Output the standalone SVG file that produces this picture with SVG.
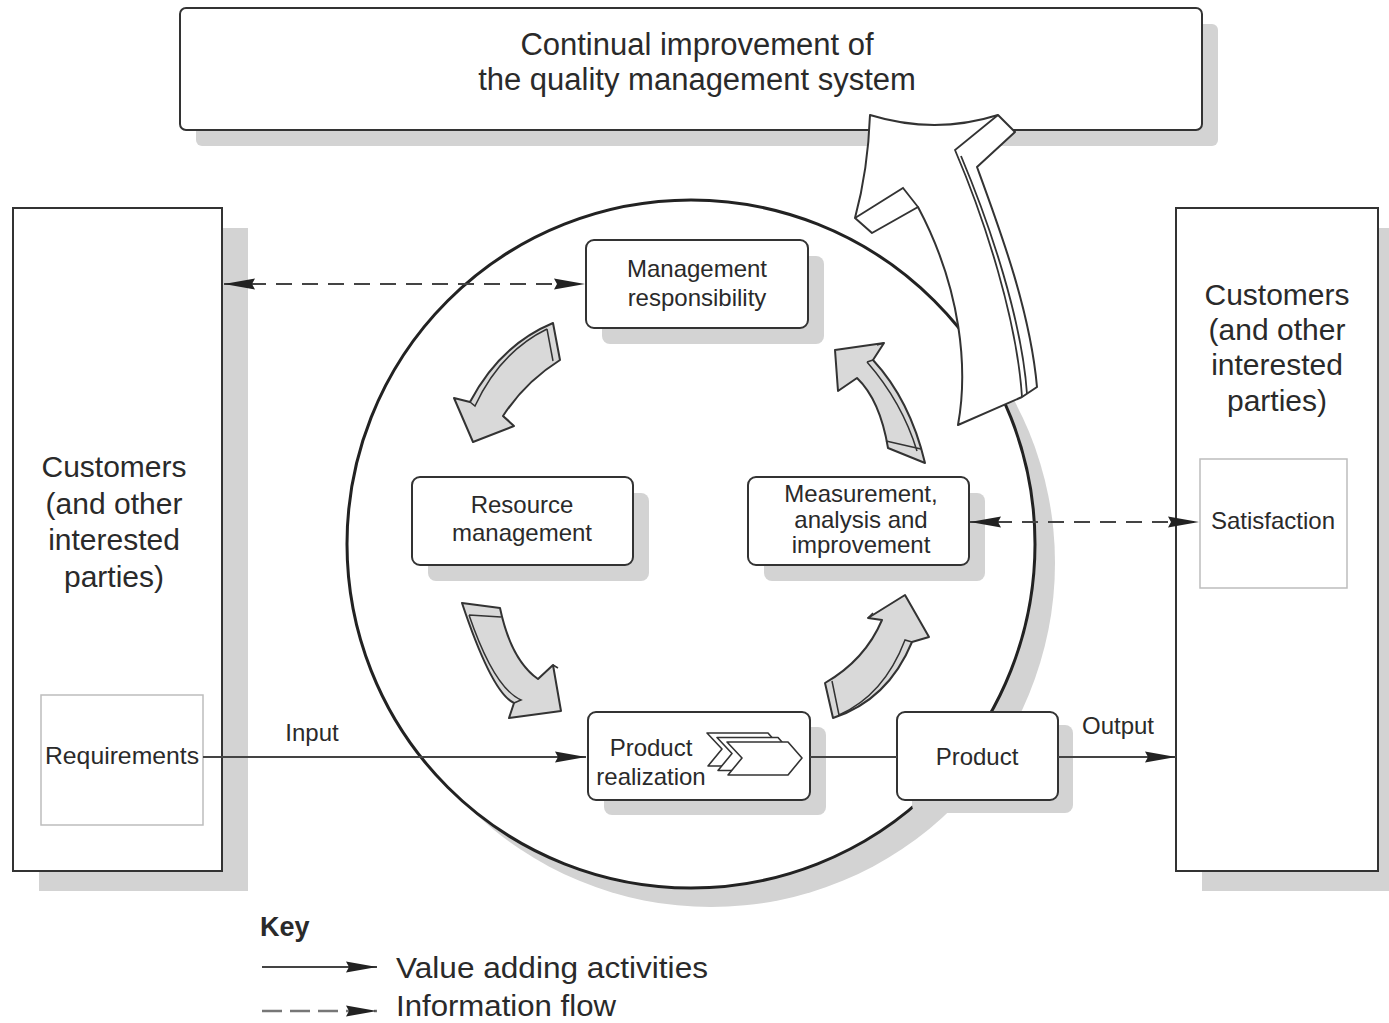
<svg xmlns="http://www.w3.org/2000/svg" width="1389" height="1023" viewBox="0 0 1389 1023">
<style>
  .t { font-family: "Liberation Sans", Arial, sans-serif; fill: #2a2a2a; }
  .big { font-size: 30px; }
  .ttl { font-size: 31px; }
  .mid { font-size: 24px; }
  .box { fill: #fff; stroke: #333; stroke-width: 2; }
  .sub { fill: #fff; stroke: #bdbdbd; stroke-width: 1.5; }
  .shadow { fill: #d3d3d3; }
  .ga { fill: #d9d9d9; stroke: #333; stroke-width: 2; stroke-linejoin: round; }
  .gl { fill: none; stroke: #333; stroke-width: 1.5; }
  .wa { fill: #fff; stroke: #333; stroke-width: 2; stroke-linejoin: round; }
  .wl { fill: none; stroke: #333; stroke-width: 1.8; }
  .solid { fill: none; stroke: #444; stroke-width: 2; }
  .dash { fill: none; stroke: #444; stroke-width: 2.2; stroke-dasharray: 16 10; }
  .chev { fill: #fff; stroke: #333; stroke-width: 1.6; stroke-linejoin: round; }
</style>
<defs>
  <marker id="ah" markerUnits="userSpaceOnUse" markerWidth="34" markerHeight="14" refX="31" refY="7" orient="auto-start-reverse">
    <path d="M0,1.5 L31,7 L0,12.5 L3,7 Z" fill="#222"/>
  </marker>
</defs>
<rect width="1389" height="1023" fill="#fff"/>

<!-- Top box -->
<g id="top-box">
  <rect class="shadow" x="196" y="24" width="1022" height="122" rx="6"/>
  <rect class="box" x="180" y="8" width="1022" height="122" rx="6"/>
  <text class="t ttl" x="697" y="55" text-anchor="middle">Continual improvement of</text>
  <text class="t ttl" x="697" y="90" text-anchor="middle">the quality management system</text>
</g>

<!-- Left customers -->
<g id="left-customers">
  <rect class="shadow" x="39" y="228" width="209" height="663"/>
  <rect class="box" x="13" y="208" width="209" height="663"/>
  <text class="t big" x="114" y="477" text-anchor="middle">Customers</text>
  <text class="t big" x="114" y="514" text-anchor="middle">(and other</text>
  <text class="t big" x="114" y="550" text-anchor="middle">interested</text>
  <text class="t big" x="114" y="587" text-anchor="middle">parties)</text>
</g>
<g id="requirements">
  <rect class="sub" x="41" y="695" width="162" height="130"/>
  <text class="t mid" x="122" y="764" text-anchor="middle" textLength="154" lengthAdjust="spacingAndGlyphs">Requirements</text>
</g>

<!-- Right customers -->
<g id="right-customers">
  <rect class="shadow" x="1202" y="228" width="202" height="663"/>
  <rect class="box" x="1176" y="208" width="202" height="663"/>
  <text class="t big" x="1277" y="305" text-anchor="middle">Customers</text>
  <text class="t big" x="1277" y="340" text-anchor="middle">(and other</text>
  <text class="t big" x="1277" y="375" text-anchor="middle">interested</text>
  <text class="t big" x="1277" y="411" text-anchor="middle">parties)</text>
</g>
<g id="satisfaction">
  <rect class="sub" x="1200" y="459" width="147" height="129"/>
  <text class="t mid" x="1273" y="529" text-anchor="middle">Satisfaction</text>
</g>

<!-- Circle -->
<g id="qms-circle">
  <circle cx="711" cy="563" r="344" class="shadow"/>
  <circle cx="691" cy="544" r="344" fill="#fff" stroke="#222" stroke-width="3"/>
</g>

<!-- Cycle arrows -->
<g id="cycle-arrows">
  <g id="arrow-mgmt-to-resource">
    <path class="ga" d="M553,323 Q500,345 470,402 L454,398 L473,442 L514,426 L503,416 Q525,382 560,360 Z"/>
    <path class="gl" d="M547,329 L553,361 M547,329 Q500,352 475,406 L470,402 M503,416 L509,421"/>
  </g>
  <g id="arrow-resource-to-realization">
    <path class="ga" d="M462,603 L500,608 Q511,660 538,679 L553,665 L561,711 L509,718 L514,703 Q492,693 462,603 Z"/>
    <path class="gl" d="M469,615 L501,617 M469,615 Q494,688 521,700 L514,703 M553,665 L558,668"/>
  </g>
  <g id="arrow-realization-to-measurement">
    <path class="ga" d="M825,683 Q865,660 882,620 L868,618 L905,595 L929,637 L912,642 Q888,700 833,718 Z"/>
    <path class="gl" d="M832,681 L839,715 M839,715 Q884,695 905,640 L912,642 M868,618 L873,613"/>
  </g>
  <g id="arrow-measurement-to-mgmt">
    <path class="ga" d="M888,448 Q880,400 857,378 L838,391 L835,350 L884,343 L873,360 Q910,400 925,463 Z"/>
    <path class="gl" d="M886,441 L921,449 M867,362 Q902,402 917,451 M873,360 L867,362 M884,343 L877,345"/>
  </g>
</g>

<!-- Inner process boxes -->
<g id="management-responsibility">
  <rect class="shadow" x="602" y="256" width="222" height="88" rx="8"/>
  <rect class="box" x="586" y="240" width="222" height="88" rx="8"/>
  <text class="t mid" x="697" y="277" text-anchor="middle">Management</text>
  <text class="t mid" x="697" y="306" text-anchor="middle">responsibility</text>
</g>
<g id="resource-management">
  <rect class="shadow" x="428" y="493" width="221" height="88" rx="8"/>
  <rect class="box" x="412" y="477" width="221" height="88" rx="8"/>
  <text class="t mid" x="522" y="513" text-anchor="middle">Resource</text>
  <text class="t mid" x="522" y="541" text-anchor="middle">management</text>
</g>
<g id="measurement">
  <rect class="shadow" x="764" y="493" width="221" height="88" rx="8"/>
  <rect class="box" x="748" y="477" width="221" height="88" rx="8"/>
  <text class="t mid" x="861" y="502" text-anchor="middle">Measurement,</text>
  <text class="t mid" x="861" y="528" text-anchor="middle">analysis and</text>
  <text class="t mid" x="861" y="553" text-anchor="middle">improvement</text>
</g>
<g id="product-realization">
  <rect class="shadow" x="604" y="727" width="222" height="88" rx="8"/>
  <rect class="box" x="588" y="712" width="222" height="88" rx="8"/>
  <text class="t mid" x="651" y="756" text-anchor="middle">Product</text>
  <text class="t mid" x="651" y="785" text-anchor="middle">realization</text>
  <path class="chev" d="M707,733 L768,733 L782,749 L768,766 L708,766 L722,749 Z"/>
  <path class="chev" d="M717,737.5 L778,737.5 L792,753.5 L778,770.5 L718,770.5 L732,753.5 Z"/>
  <path class="chev" d="M727,742 L788,742 L802,758 L788,775 L728,775 L742,758 Z"/>
</g>
<g id="product">
  <rect class="shadow" x="912" y="725" width="161" height="88" rx="8"/>
  <rect class="box" x="897" y="712" width="161" height="88" rx="8"/>
  <text class="t mid" x="977" y="765" text-anchor="middle">Product</text>
</g>

<!-- Connectors -->
<g id="connectors">
  <line class="solid" x1="203" y1="757" x2="586" y2="757" marker-end="url(#ah)"/>
  <line class="solid" x1="810" y1="757" x2="897" y2="757"/>
  <line class="solid" x1="1058" y1="757" x2="1176" y2="757" marker-end="url(#ah)"/>
  <line class="dash" x1="224" y1="284" x2="585" y2="284" marker-start="url(#ah)" marker-end="url(#ah)"/>
  <line class="dash" x1="970" y1="522" x2="1199" y2="522" marker-start="url(#ah)" marker-end="url(#ah)"/>
  <text class="t mid" x="312" y="741" text-anchor="middle">Input</text>
  <text class="t mid" x="1118" y="734" text-anchor="middle">Output</text>
</g>

<!-- Continual improvement arrow -->
<g id="improvement-arrow">
  <path class="wa" d="M870,115 Q935,135 998,115 L1015,132 L977,167 C1000,230 1030,310 1037,387 L1022,397 L958,425 C968,370 962,290 918,207 L872,233 L855,218 Q868,170 870,115 Z"/>
  <path class="wl" d="M998,115 L955,150 C985,220 1017,320 1022,397 M961,156 C990,225 1022,320 1027,394 M855,218 L903,188 L918,207"/>
</g>

<!-- Key -->
<g id="key">
  <text class="t" x="260" y="936" font-size="27" font-weight="bold">Key</text>
  <line class="solid" x1="262" y1="967" x2="377" y2="967" marker-end="url(#ah)"/>
  <text class="t big" x="396" y="978" textLength="312" lengthAdjust="spacingAndGlyphs">Value  adding activities</text>
  <line x1="262" y1="1011" x2="377" y2="1011" stroke="#777" stroke-width="2.5" stroke-dasharray="20 8" marker-end="url(#ah)"/>
  <text class="t big" x="396" y="1016" textLength="220" lengthAdjust="spacingAndGlyphs">Information flow</text>
</g>
</svg>
